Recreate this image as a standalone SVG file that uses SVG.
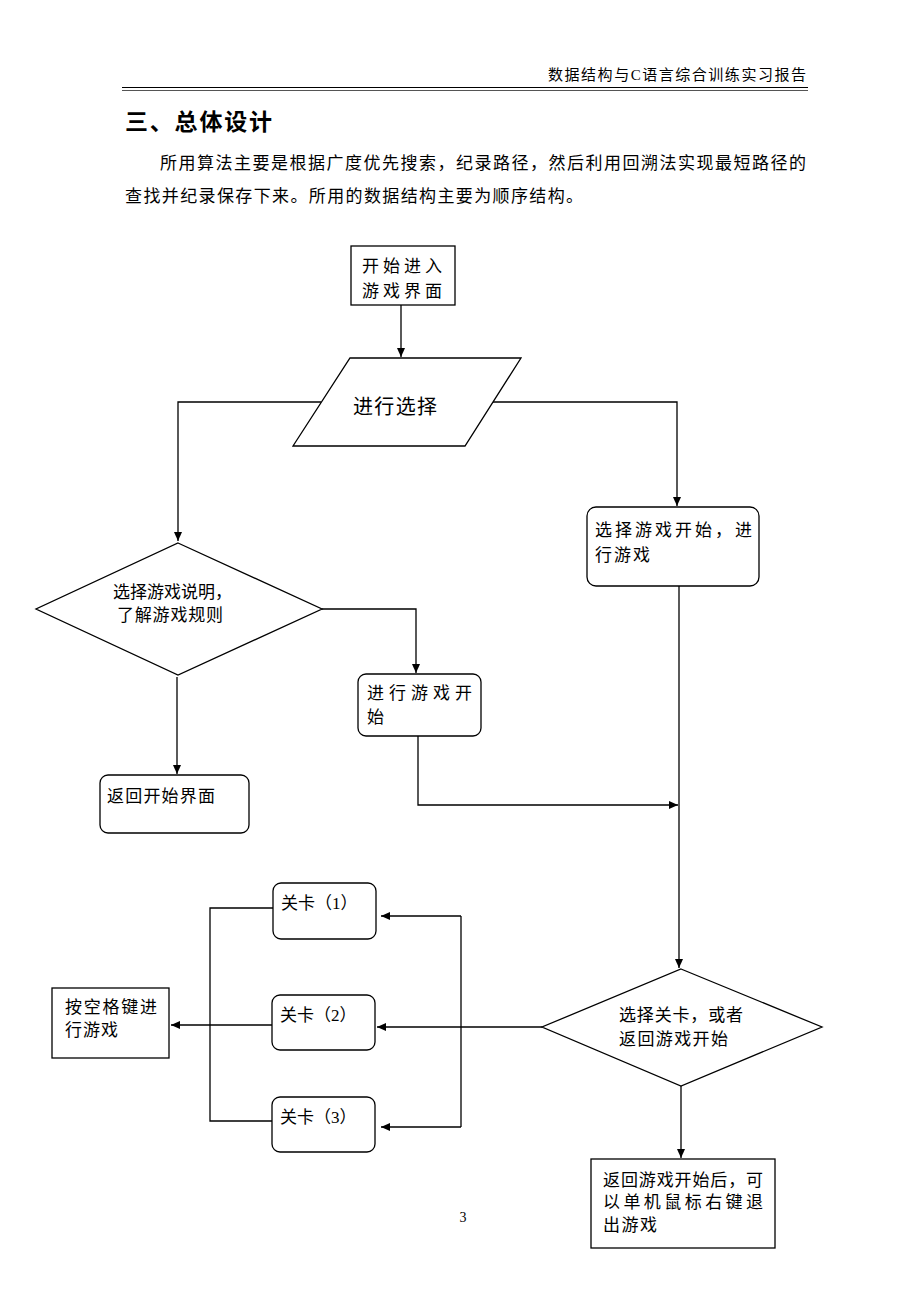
<svg xmlns="http://www.w3.org/2000/svg" width="920" height="1302" viewBox="0 0 920 1302">
<style>
.t{font-family:"Liberation Serif","Noto Sans CJK SC",serif;font-size:17px;fill:#000}
.n{fill:#fff;stroke:#000;stroke-width:1.3}
.c{fill:none;stroke:#000;stroke-width:1.3}
</style>
<defs>
<marker id="a" markerWidth="10" markerHeight="10" refX="9" refY="4" orient="auto" markerUnits="userSpaceOnUse">
<path d="M0,0 L9,4 L0,8 Z" fill="#000"/>
</marker>
</defs>
<rect width="920" height="1302" fill="#fff"/>
<g id="header">
<text class="t" x="806" y="80" text-anchor="end" style="font-size:15px" textLength="258" lengthAdjust="spacing">数据结构与C语言综合训练实习报告</text>
<line x1="122" y1="87.5" x2="808" y2="87.5" stroke="#000" stroke-width="1.2"/>
<line x1="122" y1="90.5" x2="808" y2="90.5" stroke="#555" stroke-width="1"/>
<text x="125" y="130" font-family="'Noto Sans CJK SC',sans-serif" font-weight="bold" font-size="23" textLength="147" lengthAdjust="spacing">三、总体设计</text>
<text class="t" x="160" y="169" textLength="646" lengthAdjust="spacing">所用算法主要是根据广度优先搜索，纪录路径，然后利用回溯法实现最短路径的</text>
<text class="t" x="125" y="202" textLength="458" lengthAdjust="spacing">查找并纪录保存下来。所用的数据结构主要为顺序结构。</text>
</g>
<g id="connectors">
<path class="c" d="M401,305 V357" marker-end="url(#a)"/>
<path class="c" d="M321,402 H178 V541" marker-end="url(#a)"/>
<path class="c" d="M493,402 H677 V506" marker-end="url(#a)"/>
<path class="c" d="M679,586 V968" marker-end="url(#a)"/>
<path class="c" d="M322,609 H416 V673" marker-end="url(#a)"/>
<path class="c" d="M418,736 V805 H678" marker-end="url(#a)"/>
<path class="c" d="M177,677 V774" marker-end="url(#a)"/>
<path class="c" d="M542,1027 H377" marker-end="url(#a)"/>
<path class="c" d="M461,916 V1127"/>
<path class="c" d="M461,916 H381" marker-end="url(#a)"/>
<path class="c" d="M461,1127 H381" marker-end="url(#a)"/>
<path class="c" d="M273,908 H210 V1121 H272"/>
<path class="c" d="M272,1025 H171" marker-end="url(#a)"/>
<path class="c" d="M681,1086 V1158" marker-end="url(#a)"/>
</g>
<g id="start">
<rect class="n" x="351" y="246" width="104" height="59"/>
<text class="t" x="362" y="272" textLength="80" lengthAdjust="spacing">开 始 进 入</text>
<text class="t" x="362" y="297" textLength="80" lengthAdjust="spacing">游戏界面</text>
</g>
<g id="select">
<polygon class="n" points="350,358 521,358 465,446 293,446"/>
<text class="t" x="353" y="414" style="font-size:20px" textLength="84" lengthAdjust="spacing">进行选择</text>
</g>
<g id="startgame">
<rect class="n" x="587" y="507" width="172" height="79" rx="9"/>
<text class="t" x="595" y="536" textLength="157" lengthAdjust="spacing">选择游戏开始，进</text>
<text class="t" x="595" y="561" textLength="55" lengthAdjust="spacing">行游戏</text>
</g>
<g id="help">
<polygon class="n" points="178,543 322,609 178,675 36,609"/>
<text class="t" x="113" y="598" textLength="119" lengthAdjust="spacing">选择游戏说明，</text>
<text class="t" x="117" y="621" textLength="106" lengthAdjust="spacing">了解游戏规则</text>
</g>
<g id="playgame">
<rect class="n" x="358" y="674" width="123" height="62" rx="8"/>
<text class="t" x="367" y="699" textLength="105" lengthAdjust="spacing">进 行 游 戏 开</text>
<text class="t" x="367" y="723">始</text>
</g>
<g id="back">
<rect class="n" x="100" y="775" width="149" height="58" rx="8"/>
<text class="t" x="107" y="802" textLength="108" lengthAdjust="spacing">返回开始界面</text>
</g>
<g id="level1">
<rect class="n" x="273" y="883" width="103" height="56" rx="8"/>
<text class="t" x="281" y="909">关卡（1）</text>
</g>
<g id="level2">
<rect class="n" x="272" y="995" width="103" height="55" rx="8"/>
<text class="t" x="280" y="1021">关卡（2）</text>
</g>
<g id="level3">
<rect class="n" x="272" y="1097" width="103" height="55" rx="8"/>
<text class="t" x="280" y="1123">关卡（3）</text>
</g>
<g id="space">
<rect class="n" x="52" y="988" width="117" height="70"/>
<text class="t" x="65" y="1013" textLength="92" lengthAdjust="spacing">按空格键进</text>
<text class="t" x="65" y="1036" textLength="53" lengthAdjust="spacing">行游戏</text>
</g>
<g id="chooselevel">
<polygon class="n" points="681,969 822,1027 681,1086 542,1027"/>
<text class="t" x="619" y="1021" textLength="124" lengthAdjust="spacing">选择关卡，或者</text>
<text class="t" x="619" y="1045" textLength="109" lengthAdjust="spacing">返回游戏开始</text>
</g>
<g id="exit">
<rect class="n" x="591" y="1159" width="184" height="89"/>
<text class="t" x="603" y="1186" textLength="160" lengthAdjust="spacing">返回游戏开始后，可</text>
<text class="t" x="603" y="1208" textLength="160" lengthAdjust="spacing">以单机鼠标右键退</text>
<text class="t" x="603" y="1231" textLength="54" lengthAdjust="spacing">出游戏</text>
</g>
<g id="page">
<text class="t" x="463" y="1222" style="font-size:14px" text-anchor="middle">3</text>
</g>
</svg>
